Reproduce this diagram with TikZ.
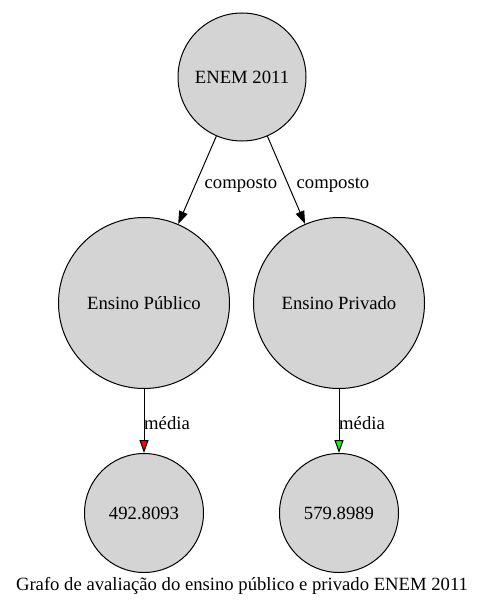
\documentclass[tikz,border=0pt]{standalone}
\usepackage{fontspec}
\setmainfont{Liberation Serif}
\usepackage{xcolor}
\usepackage{tikz}
\usetikzlibrary{arrows.meta}
\tikzset{
	estado/.style={circle,draw=black,line width=1pt,fill=black!17,inner sep=0pt},
	seta/.style={line width=1pt,-{Triangle[length=13pt,width=9pt,fill=#1]}},
	rotulo/.style={font=\fontsize{18.67}{22}\selectfont}
}

\begin{document}
\begin{tikzpicture}[x=1pt,y=-1pt,rotulo]
					\useasboundingbox (0,0) rectangle (484,607);
					\node[estado,minimum size=128pt] (enem) at (242,77) {ENEM 2011};
					\node[estado,minimum size=171pt] (pub) at (144,303) {Ensino Público};
					\node[estado,minimum size=171pt] (priv) at (339,303) {Ensino Privado};
					\node[estado,minimum size=119pt] (vpub) at (144,513) {492.8093};
					\node[estado,minimum size=119pt] (vpriv) at (339,513) {579.8989};
					\draw[seta=black] (enem) -- (pub);
					\draw[seta=black] (enem) -- (priv);
					\draw[seta=red] (pub) -- (vpub);
					\draw[seta=green] (priv) -- (vpriv);
					\node (lpub) at (241,185) {composto};
					\node (lpriv) at (333,185) {composto};
					\node (mpub) at (167,423) {média};
					\node (mpriv) at (362,423) {média};
					\node (titulo) at (242,586) {Grafo de avaliação do ensino público e privado ENEM 2011};
				\end{tikzpicture}
\end{document}
